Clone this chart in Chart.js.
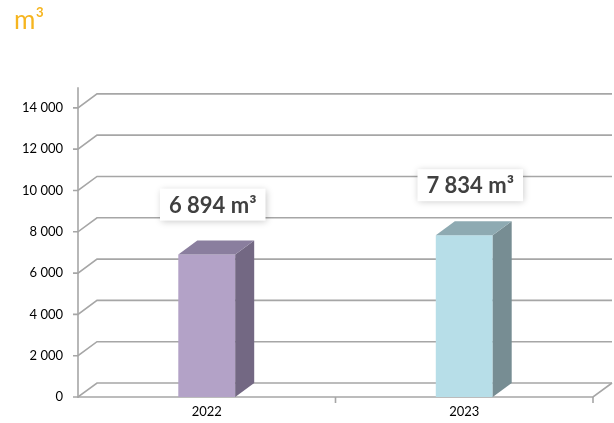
<!DOCTYPE html>
<html>
<head>
<meta charset="utf-8">
<script src="https://cdn.jsdelivr.net/npm/chart.js@4.4.0/dist/chart.umd.min.js"></script>
<style>
  html, body { margin: 0; padding: 0; background: #fff; }
</style>
</head>
<body>
<canvas id="chart" width="614" height="423"></canvas>
<script>
const years = ['2022', '2023']
const volumes = [6894, 7834]
const yTicks = [0, 2000, 4000, 6000, 8000, 10000, 12000, 14000]
const unit = 'm³'

const frontColors = ['#b3a2c7', '#b7dee8']
const sideColors = ['#736883', '#778d93']
const topColors = ['#8a7e9e', '#8eaab2']

// fake 3d depth of walls and bars
const depthX = 19
const depthY = 14
const gridColor = '#a6a6a6'

function fmt(n) {
  return String(n).replace(/\B(?=(\d{3})+(?!\d))/g, ' ')
}

const box3d = {
  id: 'box3d',
  beforeDatasetsDraw(chart) {
    const { ctx, chartArea: a, scales: { x, y } } = chart
    const base = y.getPixelForValue(0)
    ctx.save()
    ctx.strokeStyle = gridColor
    ctx.lineWidth = 1.6

    // back wall lines + left side diagonals
    yTicks.forEach(v => {
      const py = y.getPixelForValue(v)
      ctx.beginPath()
      ctx.moveTo(a.left - 5, py)
      ctx.lineTo(a.left, py)
      ctx.lineTo(a.left + depthX, py - depthY)
      ctx.lineTo(a.right + depthX, py - depthY)
      ctx.stroke()
    })

    // floor front edge
    ctx.beginPath()
    ctx.moveTo(a.left, base)
    ctx.lineTo(a.right, base)
    ctx.lineTo(a.right + depthX, base - depthY)
    ctx.stroke()

    // category dividers under the floor
    const mid = (x.getPixelForValue(0) + x.getPixelForValue(1)) / 2
    ;[mid, a.right].forEach(px => {
      ctx.beginPath()
      ctx.moveTo(px, base)
      ctx.lineTo(px, base + 6)
      ctx.stroke()
    })

    // front value axis
    ctx.beginPath()
    ctx.moveTo(a.left, a.top)
    ctx.lineTo(a.left, base + 1)
    ctx.stroke()
    ctx.restore()
  },
  afterDatasetsDraw(chart) {
    const { ctx } = chart
    ctx.save()
    chart.getDatasetMeta(0).data.forEach((bar, i) => {
      const { x: cx, y: top, base, width } = bar.getProps(['x', 'y', 'base', 'width'], true)
      const l = cx - width / 2
      const r = cx + width / 2

      ctx.fillStyle = sideColors[i]
      ctx.beginPath()
      ctx.moveTo(r, top)
      ctx.lineTo(r + depthX, top - depthY)
      ctx.lineTo(r + depthX, base - depthY)
      ctx.lineTo(r, base)
      ctx.closePath()
      ctx.fill()

      ctx.fillStyle = topColors[i]
      ctx.beginPath()
      ctx.moveTo(l, top)
      ctx.lineTo(l + depthX, top - depthY)
      ctx.lineTo(r + depthX, top - depthY)
      ctx.lineTo(r, top)
      ctx.closePath()
      ctx.fill()

      // value label in a white box
      const text = fmt(volumes[i]) + ' ' + unit
      ctx.font = 'bold 22px Lato'
      const w = ctx.measureText(text).width + 18
      const h = 32
      const bx = cx + 6
      const by = top - 50
      ctx.save()
      ctx.shadowColor = 'rgba(0,0,0,0.22)'
      ctx.shadowBlur = 7
      ctx.shadowOffsetX = 1
      ctx.shadowOffsetY = 1
      ctx.fillStyle = '#fff'
      ctx.fillRect(bx - w / 2, by - h / 2, w, h)
      ctx.restore()
      ctx.fillStyle = '#404040'
      ctx.textAlign = 'center'
      ctx.textBaseline = 'middle'
      ctx.fillText(text, bx, by + 1)
    })
    ctx.restore()
  }
}

const ctx = document.getElementById('chart').getContext('2d')
new Chart(ctx, {
  type: 'bar',
  data: {
    labels: years,
    datasets: [{
      data: volumes,
      backgroundColor: frontColors,
      borderWidth: 0,
      barPercentage: 0.221,
      categoryPercentage: 1
    }]
  },
  options: {
    responsive: false,
    animation: false,
    layout: { padding: { left: 14, right: 21, top: 0, bottom: 0 } },
    plugins: {
      legend: { display: false },
      tooltip: { enabled: false },
      title: {
        display: true,
        text: unit,
        align: 'start',
        color: '#f6b51f',
        font: { family: 'Lato', size: 26, weight: 'normal' },
        padding: { top: 5, bottom: 51 }
      }
    },
    scales: {
      x: {
        grid: { display: false, drawTicks: false },
        border: { display: false },
        ticks: { color: '#000', font: { family: 'Lato', size: 13 }, padding: 7 },
        afterFit(scale) { scale.height = 26 }
      },
      y: {
        min: 0,
        max: 15000,
        grid: { display: false, drawTicks: false },
        border: { display: false },
        ticks: {
          color: '#000',
          font: { family: 'Lato', size: 13 },
          padding: 15,
          callback: v => fmt(v)
        },
        afterBuildTicks(scale) {
          scale.ticks = yTicks.map(v => ({ value: v }))
        },
        afterFit(scale) { scale.width = 64 }
      }
    }
  },
  plugins: [box3d]
})
</script>
</body>
</html>
